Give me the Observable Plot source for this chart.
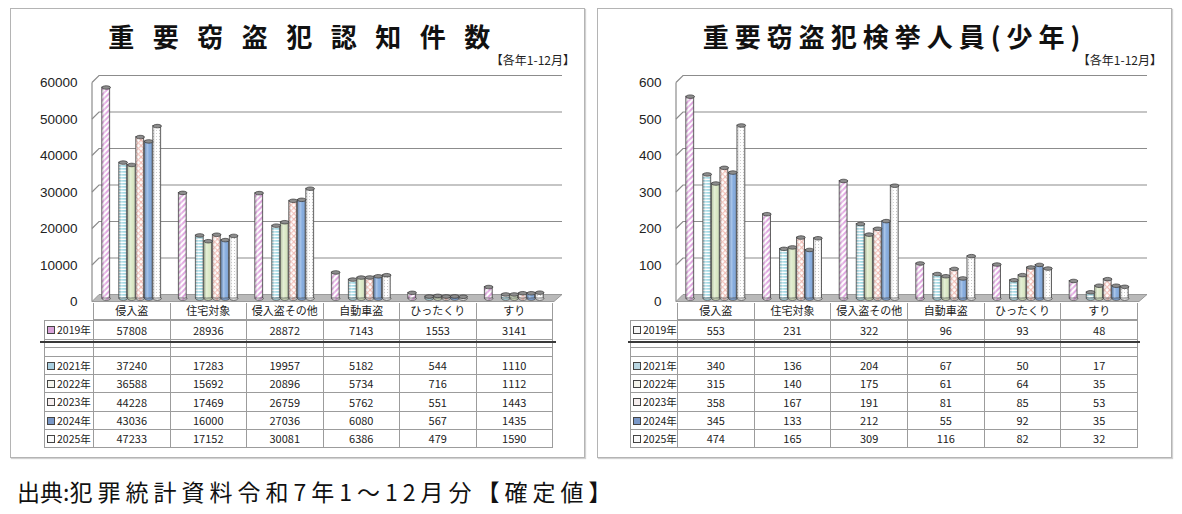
<!DOCTYPE html>
<html lang="ja"><head><meta charset="utf-8">
<script src="https://cdn.jsdelivr.net/npm/d3@7"></script>
<script src="https://cdn.jsdelivr.net/npm/@observablehq/plot@0.6"></script>
<style>
html,body{margin:0;padding:0;background:#fff;}
body{position:relative;width:1182px;height:514px;overflow:hidden;font-family:"Noto Sans CJK JP","Noto Sans",sans-serif;color:#1a1a1a;}
.panel{position:absolute;top:8px;width:573px;height:448px;border:1px solid #b4b4b4;box-shadow:1px 1px 1px rgba(0,0,0,0.18);background:#fff;}
.title{position:absolute;top:21px;width:575px;text-align:center;font-size:26px;line-height:30px;font-weight:700;white-space:nowrap;color:#111;}
.sub{position:absolute;top:52px;font-size:12px;line-height:16px;white-space:nowrap;color:#222;}
.chart{position:absolute;top:60px;}
.cell{position:absolute;box-sizing:border-box;border:1px solid #9c9c9c;font-size:11px;text-align:center;white-space:nowrap;color:#222;overflow:hidden;}
.lab{font-size:10.5px;}
.mk{display:inline-block;width:6px;height:6px;border:1px solid #444;margin-right:2px;vertical-align:0px;}
.thick{position:absolute;height:2px;background:#3a3a3a;}
.caption{position:absolute;left:17px;top:476px;font-size:23px;line-height:30px;white-space:nowrap;color:#111;}
.caption .sp{letter-spacing:5px;}
</style></head><body>
<svg width="0" height="0" style="position:absolute;left:0;top:0"><defs>
  <pattern id="p2019" patternUnits="userSpaceOnUse" width="4" height="4" patternTransform="rotate(45)">
    <rect width="4" height="4" fill="#fff"/><rect width="2" height="4" fill="#e2a8e2"/>
  </pattern>
  <pattern id="p2021" patternUnits="userSpaceOnUse" width="4" height="3">
    <rect width="4" height="3" fill="#fff"/><rect width="4" height="1.7" fill="#a2d9e4"/>
  </pattern>
  <pattern id="p2023" patternUnits="userSpaceOnUse" width="4" height="4" patternTransform="rotate(45)">
    <rect width="4" height="4" fill="#fff"/><rect width="1.2" height="4" fill="#f0b9b1"/><rect width="4" height="1.2" fill="#f0b9b1"/>
  </pattern>
  <pattern id="p2025" patternUnits="userSpaceOnUse" width="3" height="3">
    <rect width="3" height="3" fill="#fff"/><circle cx="1.5" cy="1.5" r="0.5" fill="#b4b4b4"/>
  </pattern>
  <linearGradient id="shade" x1="0" x2="1" y1="0" y2="0">
    <stop offset="0" stop-color="#000" stop-opacity="0.10"/>
    <stop offset="0.35" stop-color="#fff" stop-opacity="0.30"/>
    <stop offset="0.65" stop-color="#fff" stop-opacity="0"/>
    <stop offset="1" stop-color="#000" stop-opacity="0.18"/>
  </linearGradient>
</defs></svg>
<script>
// ---------- data ----------
const categories = ["侵入盗", "住宅対象", "侵入盗その他", "自動車盗", "ひったくり", "すり"];
const seriesYears = [2019, 2021, 2022, 2023, 2024, 2025];
const slotYears = [2019, 2020, 2021, 2022, 2023, 2024, 2025];
const yearLabels = ["2019年", "2021年", "2022年", "2023年", "2024年", "2025年"];

const recog2019 = [57808, 28936, 28872, 7143, 1553, 3141];
const recog2021 = [37240, 17283, 19957, 5182, 544, 1110];
const recog2022 = [36588, 15692, 20896, 5734, 716, 1112];
const recog2023 = [44228, 17469, 26759, 5762, 551, 1443];
const recog2024 = [43036, 16000, 27036, 6080, 567, 1435];
const recog2025 = [47233, 17152, 30081, 6386, 479, 1590];

const arrest2019 = [553, 231, 322, 96, 93, 48];
const arrest2021 = [340, 136, 204, 67, 50, 17];
const arrest2022 = [315, 140, 175, 61, 64, 35];
const arrest2023 = [358, 167, 191, 81, 85, 53];
const arrest2024 = [345, 133, 212, 55, 92, 35];
const arrest2025 = [474, 165, 309, 116, 82, 32];

const recogTicks = [0, 10000, 20000, 30000, 40000, 50000, 60000];
const arrestTicks = [0, 100, 200, 300, 400, 500, 600];

const titleLeft = "重要窃盗犯認知件数";
const titleRight = "重要窃盗犯検挙人員(少年)";
const periodNote = "【各年1-12月】";
const sourceHead = "出典:";
const sourceBody = "犯罪統計資料令和7年1～12月分【確定値】";

// ---------- styles ----------
const barFills = ["url(#p2019)", "url(#p2021)", "#dbe9c6", "url(#p2023)", "#85acdf", "url(#p2025)"];

const ellipse = {
  draw(context, size) {
    const r = Math.sqrt(size / Math.PI), rx = r, ry = r * 0.42, k = 0.5523;
    context.moveTo(rx, 0);
    context.bezierCurveTo(rx, ry * k, rx * k, ry, 0, ry);
    context.bezierCurveTo(-rx * k, ry, -rx, ry * k, -rx, 0);
    context.bezierCurveTo(-rx, -ry * k, -rx * k, -ry, 0, -ry);
    context.bezierCurveTo(rx * k, -ry, rx, -ry * k, rx, 0);
    context.closePath();
  }
};

function wall(ticks, L, R) {
  return (index, scales) => {
    const y = scales.y;
    const g = d3.create("svg:g");
    const y0 = y(0), yTop = y(ticks[ticks.length - 1]);
    g.append("path")
      .attr("d", `M${L - 1},${y0 + 3.5}L${R + 2},${y0 + 3.5}L${R + 10},${y0 - 3.5}L${L + 6},${y0 - 3.5}Z`)
      .attr("fill", "#b9b9b9").attr("stroke", "#8a8a8a").attr("stroke-width", 0.8);
    g.append("path")
      .attr("d", `M${L - 1},${y0 + 3.5}V${yTop + 3.5}`)
      .attr("fill", "none").attr("stroke", "#8c8c8c").attr("stroke-width", 1.2);
    for (const t of ticks.slice(1)) {
      const yt = y(t);
      g.append("path")
        .attr("d", `M${L - 1},${yt + 3.5}L${L + 6},${yt - 3.5}L${R + 10},${yt - 3.5}`)
        .attr("fill", "none").attr("stroke", "#8c8c8c").attr("stroke-width", 1.2);
    }
    return g.node();
  };
}

function chart({series, ticks, marginLeft, marginRight}) {
  const width = 573, height = 250;
  const data = seriesYears.flatMap((yr, j) =>
    categories.map((c, i) => ({cat: c, year: yr, key: `${c}|${yr}`, value: series[j][i]})));
  const xDomain = categories.flatMap(c => [`${c}|a`, ...slotYears.map(y => `${c}|${y}`), `${c}|b`]);
  return Plot.plot({
    width, height,
    marginTop: 19, marginBottom: 12, marginLeft, marginRight,
    style: {background: "transparent", overflow: "visible", fontFamily: "'Liberation Sans', Arial, sans-serif", fontSize: "13.5px", color: "#222"},
    x: {type: "band", domain: xDomain, padding: 0, round: false, axis: null},
    y: {domain: [0, ticks[ticks.length - 1]], axis: null},
    color: {type: "ordinal", domain: seriesYears, range: barFills},
    marks: [
      wall(ticks, marginLeft, width - marginRight),
      Plot.axisY({ticks, label: null, tickSize: 0, tickPadding: 16, dy: 3.5, tickFormat: d => String(d), fontSize: 13.5, fill: "#222"}),
      Plot.dot(data, {x: "key", y: () => 0, symbol: ellipse, r: 4.2, fill: "year", stroke: "#4a4a4a", strokeWidth: 0.8}),
      Plot.barY(data, {x: "key", y: "value", fill: "year", stroke: "#4a4a4a", strokeWidth: 0.8, insetLeft: 0.3, insetRight: 0.3}),
      Plot.barY(data, {x: "key", y: "value", fill: "url(#shade)", insetLeft: 0.3, insetRight: 0.3}),
      Plot.dot(data, {x: "key", y: "value", symbol: ellipse, r: 4.2, fill: "#8d8d8d", stroke: "#333", strokeWidth: 0.7})
    ]
  });
}

function el(cls, css, html) {
  const d = document.createElement("div");
  d.className = cls;
  Object.assign(d.style, css);
  if (html != null) d.innerHTML = html;
  document.body.appendChild(d);
  return d;
}

function table({labelX, x0, colW, series, markers, lineX1, lineX2}) {
  const rows = [
    {top: 303, h: 17, kind: "head"},
    {top: 320, h: 20, year: 0},
    {top: 339, h: 9, kind: "gap"},
    {top: 347, h: 10, kind: "blank"},
    {top: 356, h: 19, year: 1},
    {top: 374, h: 19, year: 2},
    {top: 392, h: 20, year: 3},
    {top: 411, h: 19, year: 4},
    {top: 429, h: 19, year: 5}
  ];
  for (const r of rows) {
    const base = {top: r.top + "px", height: r.h + "px", lineHeight: (r.h - 2) + "px"};
    const lab = {...base, left: labelX + "px", width: (x0 - labelX + 1) + "px", textAlign: "left", paddingLeft: "2px"};
    if (r.kind === "head") {
      // no label cell in the header row
    } else if (r.kind === "gap") {
      el("cell", {...lab, borderTop: "none", borderBottom: "none"});
    } else if (r.kind === "blank") {
      el("cell", lab);
    } else {
      el("cell lab", lab, `<span class="mk" style="background:${markers[r.year]}"></span>${yearLabels[r.year]}`);
    }
    categories.forEach((c, i) => {
      const css = {...base, left: (x0 + i * colW) + "px", width: (colW + 1) + "px"};
      if (r.kind === "head") el("cell", {...css, borderTop: "none"}, c);
      else if (r.kind === "gap") el("cell", {...css, borderTop: "none", borderBottom: "none"});
      else if (r.kind === "blank") el("cell", css);
      else el("cell", css, String(series[r.year][i]));
    });
  }
  el("thick", {left: lineX1 + "px", width: (lineX2 - lineX1) + "px", top: "341px"});
}

function panel({left, title, spacing, padLeft, series, ticks, marginLeft, marginRight, table: t}) {
  el("panel", {left: left + "px"});
  el("title", {left: left + "px", letterSpacing: spacing + "px", paddingLeft: padLeft + "px", boxSizing: "border-box"}, title);
  el("sub", {right: (1182 - left - 575 + 10) + "px"}, periodNote);
  const holder = el("chart", {left: (left + 1) + "px"});
  holder.appendChild(chart({series, ticks, marginLeft, marginRight}));
  table({...t, series});
}

const recogSeries = [recog2019, recog2021, recog2022, recog2023, recog2024, recog2025];
const arrestSeries = [arrest2019, arrest2021, arrest2022, arrest2023, arrest2024, arrest2025];

panel({
  left: 10, title: titleLeft, spacing: 18.5, padLeft: 22,
  series: recogSeries, ticks: recogTicks, marginLeft: 82, marginRight: 32,
  table: {labelX: 44, x0: 93, colW: 76.5, lineX1: 40, lineX2: 556,
          markers: ["#d9a3d9", "#a9cfe0", "#f4f4ec", "#f6eeee", "#7a98c8", "#fafafa"]}
});
panel({
  left: 597, title: titleRight, spacing: 6, padLeft: 20,
  series: arrestSeries, ticks: arrestTicks, marginLeft: 79, marginRight: 34,
  table: {labelX: 630, x0: 677, colW: 76.67, lineX1: 628, lineX2: 1140,
          markers: ["#f6f6f6", "#b9d6e2", "#f4f4ec", "#f6eeee", "#7a98c8", "#fafafa"]}
});

el("caption", {}, `${sourceHead}<span class="sp">${sourceBody}</span>`);
</script>
</body></html>
